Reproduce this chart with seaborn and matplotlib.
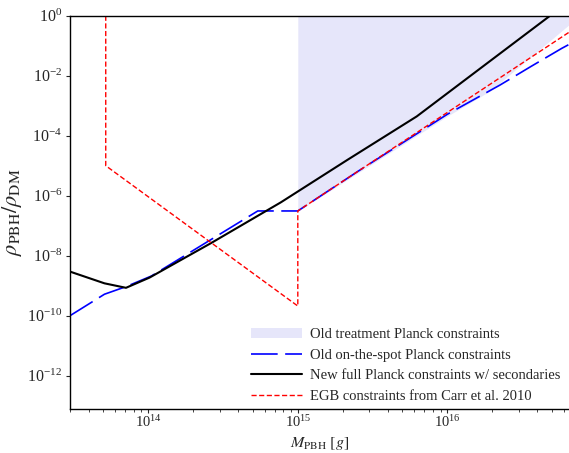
import matplotlib
matplotlib.use("Agg")
import matplotlib.pyplot as plt
import seaborn as sns
from matplotlib.ticker import FixedLocator, LogLocator, LogFormatterMathtext, NullLocator, NullFormatter

# ---- data ----
blue_m = [3.0e13, 5.1e13, 7.1e13, 1.05e14, 5.4e14, 1.0e15, 2.5e15, 1.0e16, 2.25e16, 3.6e16, 5.8e16, 6.5e16]
blue_f = [1.0e-10, 5.2e-10, 9.3e-10, 2.1e-9, 3.1e-7, 3.1e-7, 6.3e-6, 5.2e-4, 4.9e-3, 2.0e-2, 8.1e-2, 1.1e-1]

black_m = [3.0e13, 5.1e13, 7.1e13, 1.02e14, 2.63e14, 7.7e14, 2.14e15, 6.24e15, 1.22e16, 4.86e16, 6.5e16]
black_f = [2.95e-9, 1.2e-9, 8.5e-10, 1.86e-9, 2.63e-8, 6.0e-7, 1.55e-5, 4.4e-4, 5.5e-3, 1.0, 3.0]

red_m = [5.2e13, 5.2e13, 1.0e15, 1.0e15, 6.5e16]
red_f = [1.0, 1.0e-5, 2.1e-10, 3.1e-7, 0.28]

fill_m = [1.0e15, 2.5e15, 1.0e16, 1.95e16, 6.5e16]
fill_lo = [3.0e-7, 5.6e-6, 4.5e-4, 3.2e-3, 0.5]

labels = ["Old treatment Planck constraints",
          "Old on-the-spot Planck constraints",
          "New full Planck constraints w/ secondaries",
          "EGB constraints from Carr et al. 2010"]

x_ticks = [1e14, 1e15, 1e16]
y_ticks = [1e0, 1e-2, 1e-4, 1e-6, 1e-8, 1e-10, 1e-12]

# ---- style ----
sns.set_style("ticks")
plt.rcParams["font.family"] = ["Liberation Serif", "DejaVu Serif"]
plt.rcParams["mathtext.fontset"] = "stix"

W, H = 569, 453
top_px, bot_px = 15.7, 409.0
fig = plt.figure(figsize=(W / 100, H / 100), dpi=100)
ax = fig.add_axes([70 / W, 1 - bot_px / H, 499 / W, (bot_px - top_px) / H])
ax.set_xscale("log")
ax.set_yscale("log")

fill = ax.fill_between(fill_m, fill_lo, 10, color="#e6e6fa", lw=0, label=labels[0])

sns.lineplot(x=blue_m, y=blue_f, ax=ax, color="#0000ff", lw=1.2, sort=False,
             estimator=None, label=labels[1])
l_blue = ax.lines[-1]
l_blue.set_dashes((16, 4.5))

sns.lineplot(x=black_m, y=black_f, ax=ax, color="black", lw=1.5, sort=False,
             estimator=None, label=labels[2])
l_black = ax.lines[-1]

sns.lineplot(x=red_m, y=red_f, ax=ax, color="#ff0000", lw=1.0, sort=False,
             estimator=None, label=labels[3])
l_red = ax.lines[-1]
l_red.set_dashes((3.7, 1.8))

ax.set_xlim(3.0e13, 6.5e16)
ax.set_ylim(10 ** (-(bot_px - top_px) / 30.0), 1.0)

ax.xaxis.set_major_locator(FixedLocator(x_ticks))
ax.xaxis.set_major_formatter(LogFormatterMathtext())
ax.xaxis.set_minor_locator(LogLocator(base=10, subs=range(2, 10), numticks=50))
ax.xaxis.set_minor_formatter(NullFormatter())
ax.yaxis.set_major_locator(FixedLocator(y_ticks))
ax.yaxis.set_major_formatter(LogFormatterMathtext())
ax.yaxis.set_minor_locator(NullLocator())

ax.tick_params(which="major", direction="out", length=3.0, width=0.8, labelsize=11.5, pad=2.5)
ax.tick_params(axis="x", which="major", labelsize=10.5, pad=1.0)
ax.tick_params(which="minor", direction="out", length=2, width=0.6)

for s in ["left", "bottom", "top"]:
    ax.spines[s].set_color("black")
    ax.spines[s].set_linewidth(1.0)
ax.spines["right"].set_visible(False)

ax.set_xlabel(r"$M_{\rm PBH}\ [g]$", fontsize=11.5)
ax.xaxis.set_label_coords(0.5, -(451.5 - bot_px) / (bot_px - top_px))
ax.xaxis.label.set_va("bottom")
ax.set_ylabel(r"$\rho_{\rm PBH}/\rho_{\rm DM}$", fontsize=16, labelpad=2)

leg = ax.legend([fill, l_blue, l_black, l_red], labels, loc="lower right",
                bbox_to_anchor=(0.982, 0.016), frameon=False, fontsize=10.5,
                handlelength=3.5, handletextpad=0.5, labelspacing=0.5,
                borderpad=0, borderaxespad=0)

fig.savefig("out.png", dpi=100)
